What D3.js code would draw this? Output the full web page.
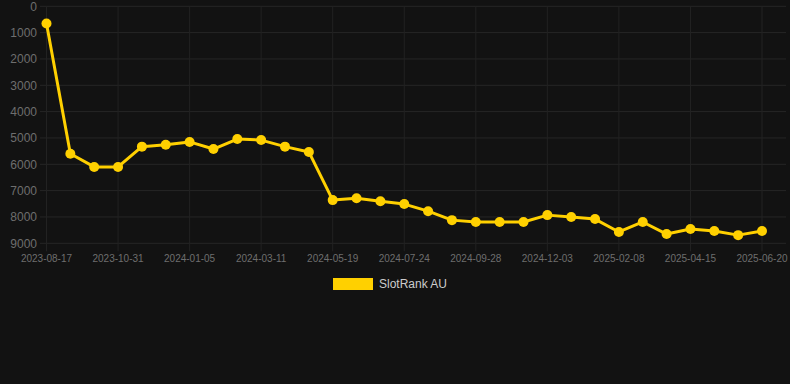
<!DOCTYPE html>
<html>
<head>
<meta charset="utf-8">
<script src="https://cdn.jsdelivr.net/npm/d3@7"></script>
<style>
  html, body { margin: 0; padding: 0; background: #121212; }
  svg { display: block; font-family: Arial, "Liberation Sans", sans-serif; }
</style>
</head>
<body>
<svg id="chart" width="790" height="384"></svg>
<script>
// dates of each rank snapshot (labelled ones, others estimated)
var dates = [
  "2023-08-17", "2023-09-11", "2023-10-06", "2023-10-31", "2023-11-22", "2023-12-14",
  "2024-01-05", "2024-01-27", "2024-02-18", "2024-03-11", "2024-04-03", "2024-04-26",
  "2024-05-19", "2024-06-10", "2024-07-02", "2024-07-24", "2024-08-15", "2024-09-06",
  "2024-09-28", "2024-10-20", "2024-11-11", "2024-12-03", "2024-12-25", "2025-01-16",
  "2025-02-08", "2025-03-02", "2025-03-24", "2025-04-15", "2025-05-07", "2025-05-29",
  "2025-06-20"
];
var ranks = [
  650, 5600, 6100, 6100, 5330, 5260,
  5150, 5420, 5040, 5080, 5330, 5530,
  7360, 7290, 7400, 7510, 7780, 8120,
  8190, 8190, 8190, 7930, 8000, 8080,
  8570, 8190, 8650, 8460, 8530, 8690,
  8530
];
var yTicks = [0, 1000, 2000, 3000, 4000, 5000, 6000, 7000, 8000, 9000];
var seriesName = "SlotRank AU";

var svg = d3.select("#chart");
// plot edges (avoid the name "top", it is window.top)
var plotLeft = 40, plotRight = 786, plotTop = 6.3, plotBottom = 243.3;

var x = d3.scalePoint()
  .domain(dates)
  .range([46.5, 762]);

var y = d3.scaleLinear()
  .domain([0, 9000])
  .range([plotTop, plotBottom]);

// horizontal grid
svg.append("g")
  .selectAll("line")
  .data(yTicks)
  .join("line")
  .attr("x1", plotLeft).attr("x2", plotRight)
  .attr("y1", function(d){ return y(d); })
  .attr("y2", function(d){ return y(d); })
  .attr("stroke", "#262626")
  .attr("stroke-width", 1);

// vertical grid, one every 3 dates
var labelDates = dates.filter(function(d, i){ return i % 3 === 0; });
svg.append("g")
  .selectAll("line")
  .data(labelDates)
  .join("line")
  .attr("x1", function(d){ return x(d); })
  .attr("x2", function(d){ return x(d); })
  .attr("y1", plotTop).attr("y2", plotBottom + 8)
  .attr("stroke", "#222")
  .attr("stroke-width", 1);

// y labels
svg.append("g")
  .selectAll("text")
  .data(yTicks)
  .join("text")
  .attr("x", 37)
  .attr("y", function(d){ return y(d); })
  .attr("dy", "0.35em")
  .attr("text-anchor", "end")
  .attr("font-size", 12)
  .attr("fill", "#6e6e6e")
  .text(function(d){ return d; });

// x labels
svg.append("g")
  .selectAll("text")
  .data(labelDates)
  .join("text")
  .attr("x", function(d){ return x(d); })
  .attr("y", 262)
  .attr("text-anchor", "middle")
  .attr("font-size", 10)
  .attr("fill", "#6e6e6e")
  .text(function(d){ return d; });

var line = d3.line()
  .x(function(d, i){ return x(dates[i]); })
  .y(function(d){ return y(d); });

svg.append("path")
  .datum(ranks)
  .attr("fill", "none")
  .attr("stroke", "#ffd000")
  .attr("stroke-width", 3)
  .attr("stroke-linejoin", "round")
  .attr("d", line);

svg.append("g")
  .selectAll("circle")
  .data(ranks)
  .join("circle")
  .attr("cx", function(d, i){ return x(dates[i]); })
  .attr("cy", function(d){ return y(d); })
  .attr("r", 5)
  .attr("fill", "#ffd000");

// legend
var legend = svg.append("g");
legend.append("rect")
  .attr("x", 333).attr("y", 278)
  .attr("width", 40).attr("height", 12)
  .attr("fill", "#ffd000");
legend.append("text")
  .attr("x", 379).attr("y", 284)
  .attr("dy", "0.35em")
  .attr("font-size", 12)
  .attr("fill", "#cccccc")
  .text(seriesName);
</script>
</body>
</html>
